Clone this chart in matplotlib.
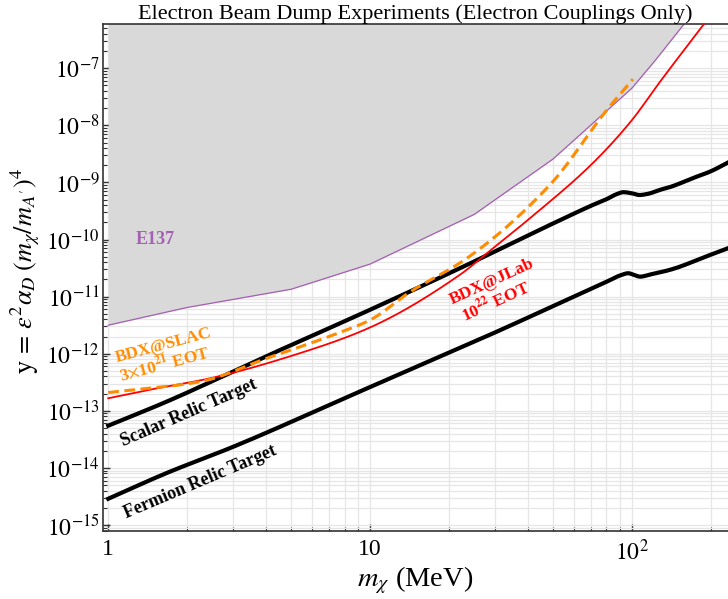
import numpy as np
import matplotlib
matplotlib.use("Agg")
import matplotlib.pyplot as plt
from matplotlib.ticker import FixedLocator, FuncFormatter, NullFormatter

plt.rcParams['font.family'] = ['Liberation Serif', 'DejaVu Serif']
plt.rcParams['mathtext.fontset'] = 'stix'

# E137 excluded region boundary (m_chi in MeV, log10 y)
e137_m = [1, 2, 5, 10, 25, 50, 100, 123, 160, 240]
e137_logy = [-11.50, -11.19, -10.87, -10.43, -9.56, -8.59, -7.35, -6.86, -6.20, -5.1]

# BDX@JLab 10^22 EOT (red)
jlab_m = [1, 1.44, 2.45, 5.4, 10, 22, 29, 40, 71, 100, 127, 189, 240]
jlab_logy = [-12.78, -12.63, -12.43, -11.99, -11.54, -10.62, -10.18, -9.66, -8.66, -7.91, -7.26, -6.22, -5.6]

# BDX@SLAC 3x10^21 EOT (orange dashed)
slac_m = [1, 2.24, 4.03, 7.24, 10, 14.2, 23.4, 48.7, 80.3, 101]
slac_logy = [-12.68, -12.49, -12.08, -11.67, -11.41, -10.92, -10.33, -9.04, -7.73, -7.19]

# scalar relic target
scalar_m = [1, 1.67, 4.03, 10, 22.1, 53.2, 71.3, 80.3, 88, 93, 100, 107, 115, 128, 140, 172, 199, 240]
scalar_logy = [-13.26, -12.84, -12.04, -11.23, -10.50, -9.66, -9.39, -9.29, -9.20, -9.17, -9.19, -9.22, -9.20, -9.13, -9.08, -8.92, -8.81, -8.62]

# fermion relic target
fermion_m = [1, 1.67, 3.0, 9.16, 29.6, 53.2, 82.6, 90, 97, 102, 107.6, 118, 140, 199, 240]
fermion_logy = [-14.54, -14.09, -13.63, -12.66, -11.64, -11.11, -10.71, -10.63, -10.59, -10.62, -10.65, -10.61, -10.53, -10.27, -10.13]

purple = '#a55fb4'
orange = '#ff8c00'


def pchip(m, logy, n=400):
    # monotone cubic hermite in log-log space
    x = np.log10(m)
    y = np.array(logy, dtype=float)
    h = np.diff(x)
    d = np.diff(y) / h
    t = np.zeros_like(y)
    t[0], t[-1] = d[0], d[-1]
    for i in range(1, len(y) - 1):
        if d[i - 1] * d[i] > 0:
            w1 = 2 * h[i] + h[i - 1]
            w2 = h[i] + 2 * h[i - 1]
            t[i] = (w1 + w2) / (w1 / d[i - 1] + w2 / d[i])
    xs = np.linspace(x[0], x[-1], n)
    k = np.clip(np.searchsorted(x, xs) - 1, 0, len(h) - 1)
    s = (xs - x[k]) / h[k]
    h00 = 2 * s**3 - 3 * s**2 + 1
    h10 = s**3 - 2 * s**2 + s
    h01 = -2 * s**3 + 3 * s**2
    h11 = s**3 - s**2
    ys = h00 * y[k] + h10 * h[k] * t[k] + h01 * y[k + 1] + h11 * h[k] * t[k + 1]
    return 10 ** xs, 10 ** ys


fig = plt.figure(figsize=(7.28, 5.99), dpi=100)
ax = fig.add_axes([0.141, 0.1135, 0.859, 0.8465])

ax.set_xscale('log')
ax.set_yscale('log')

# E137 region
ey = [10 ** v for v in e137_logy]
ax.fill_between(e137_m, ey, 1e-3, color='#d9d9d9', linewidth=0, zorder=1)
ax.plot(e137_m, ey, color=purple, lw=0.9, zorder=2)

x, y = pchip(scalar_m, scalar_logy)
ax.plot(x, y, color='black', lw=3.0, zorder=3)
x, y = pchip(fermion_m, fermion_logy)
ax.plot(x, y, color='black', lw=3.0, zorder=3)
x, y = pchip(jlab_m, jlab_logy)
ax.plot(x, y, color='#ff0000', lw=1.3, zorder=4)
x, y = pchip(slac_m, slac_logy)
ax.plot(x, y, color=orange, lw=2.2, ls=(0, (3.5, 1.8)), zorder=5)

ax.set_xlim(0.952, 233)
ax.set_ylim(10 ** -15.105, 10 ** -6.224)

# ticks
ax.xaxis.set_major_locator(FixedLocator([1, 10, 100]))
ax.xaxis.set_major_formatter(FuncFormatter(lambda v, p: {1: '1', 10: '10', 100: r'$10^{2}$'}.get(int(round(v)), '')))
ax.xaxis.set_minor_locator(FixedLocator([a * 10 ** b for b in range(0, 3) for a in range(2, 10)]))
ax.xaxis.set_minor_formatter(NullFormatter())
ax.yaxis.set_major_locator(FixedLocator([10.0 ** e for e in range(-15, -6)]))
ax.yaxis.set_major_formatter(FuncFormatter(lambda v, p: r'$10^{%d}$' % int(round(np.log10(v)))))
ax.yaxis.set_minor_locator(FixedLocator([a * 10.0 ** b for b in range(-16, -5) for a in range(2, 10)]))
ax.yaxis.set_minor_formatter(NullFormatter())

ax.tick_params(which='both', direction='in', colors='#333333', labelcolor='black')
ax.tick_params(axis='y', labelsize=17, pad=2)
ax.tick_params(axis='x', labelsize=17, pad=6)
ax.tick_params(which='major', length=5, width=1.0)
ax.tick_params(which='minor', length=3, width=0.8)

ax.grid(True, which='both', color='#e6e6e6', lw=0.9, zorder=0)
ax.set_axisbelow(True)

for s in ['left', 'bottom', 'top']:
    ax.spines[s].set_color('#333333')
    ax.spines[s].set_linewidth(1.2)
ax.spines['right'].set_visible(False)

ax.set_title('Electron Beam Dump Experiments (Electron Couplings Only)', fontsize=16, pad=0)
ax.set_xlabel(r'$m_\chi$ (MeV)', fontsize=20.5, labelpad=0)
ax.set_ylabel(r'$\mathrm{y}\,=\,\epsilon^2\alpha_D\;(m_\chi/m_{A^\prime})^4$', fontsize=19)
ax.yaxis.set_label_coords(-0.097, 0.513)

# labels
ax.text(1.51, 1e-10, 'E137', color=purple, fontsize=13, fontweight='bold', ha='center', va='center')
ax.text(1.63, 10 ** -11.86, 'BDX@SLAC', color=orange, fontsize=12.5, fontweight='bold',
        rotation=15, ha='center', va='center')
ax.text(1.64, 10 ** -12.16, r'3$\times$10$^{\mathbf{21}}$ EOT', color=orange, fontsize=12.5,
        fontweight='bold', rotation=15, ha='center', va='center')
ax.text(29.3, 10 ** -10.74, 'BDX@JLab', color='#ff0000', fontsize=12.5, fontweight='bold',
        rotation=24.5, ha='center', va='center')
ax.text(30.0, 10 ** -11.08, r'10$^{\mathbf{22}}$ EOT', color='#ff0000', fontsize=12.5,
        fontweight='bold', rotation=24.5, ha='center', va='center')
ax.text(2.03, 10 ** -13.04, 'Scalar Relic Target', color='black', fontsize=13, fontweight='bold',
        rotation=23.5, ha='center', va='center')
ax.text(2.24, 10 ** -14.245, 'Fermion Relic Target', color='black', fontsize=13, fontweight='bold',
        rotation=23, ha='center', va='center')

fig.savefig('out.png', dpi=100)
